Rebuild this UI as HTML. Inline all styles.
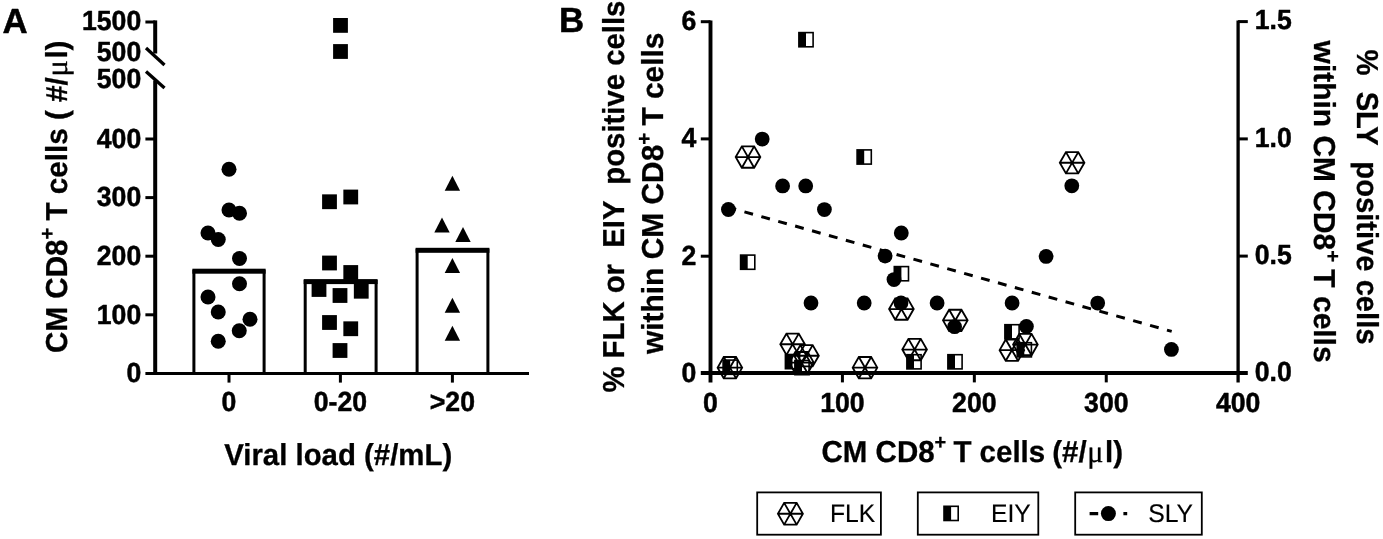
<!DOCTYPE html>
<html lang="en"><head><meta charset="utf-8"><title>Figure</title>
<style>
html,body{margin:0;padding:0;background:#fff;}
body{width:1383px;height:539px;overflow:hidden;font-family:"Liberation Sans",Arial,sans-serif;}
svg{display:block;}
</style></head><body>
<svg width="1383" height="539" viewBox="0 0 1383 539" shape-rendering="geometricPrecision" text-rendering="geometricPrecision">
<rect width="1383" height="539" fill="#fff"/>
<text transform="translate(2.6,32.6) scale(1,1)" font-size="34.8" text-anchor="start" font-family="Liberation Sans, Arial, sans-serif" font-weight="bold"  stroke="#000" stroke-width="0.5" stroke-linejoin="round">A</text>
<line x1="155.2" y1="20.4" x2="155.2" y2="53.5" stroke="#000" stroke-width="4.0" />
<line x1="155.2" y1="80.5" x2="155.2" y2="374.9" stroke="#000" stroke-width="4.0" />
<line x1="146.0" y1="48.0" x2="164.5" y2="65.0" stroke="#000" stroke-width="3.3" />
<line x1="146.0" y1="71.4" x2="164.5" y2="88.0" stroke="#000" stroke-width="3.3" />
<line x1="145.4" y1="22" x2="155.2" y2="22" stroke="#000" stroke-width="3.0" />
<line x1="145.4" y1="139.0" x2="155.2" y2="139.0" stroke="#000" stroke-width="3.0" />
<line x1="145.4" y1="197.6" x2="155.2" y2="197.6" stroke="#000" stroke-width="3.0" />
<line x1="145.4" y1="256.2" x2="155.2" y2="256.2" stroke="#000" stroke-width="3.0" />
<line x1="145.4" y1="314.79999999999995" x2="155.2" y2="314.79999999999995" stroke="#000" stroke-width="3.0" />
<line x1="145.4" y1="373.4" x2="529" y2="373.4" stroke="#000" stroke-width="3.0" />
<line x1="229" y1="373.4" x2="229" y2="382.6" stroke="#000" stroke-width="3.0" />
<line x1="340.4" y1="373.4" x2="340.4" y2="382.6" stroke="#000" stroke-width="3.0" />
<line x1="452.4" y1="373.4" x2="452.4" y2="382.6" stroke="#000" stroke-width="3.0" />
<text transform="translate(141.2,29.9) scale(0.965,1)" font-size="27.6" text-anchor="end" font-family="Liberation Sans, Arial, sans-serif" font-weight="bold"  stroke="#000" stroke-width="0.5" stroke-linejoin="round">1500</text>
<text transform="translate(141.2,61.1) scale(0.965,1)" font-size="27.6" text-anchor="end" font-family="Liberation Sans, Arial, sans-serif" font-weight="bold"  stroke="#000" stroke-width="0.5" stroke-linejoin="round">500</text>
<text transform="translate(141.2,88.1) scale(0.965,1)" font-size="27.6" text-anchor="end" font-family="Liberation Sans, Arial, sans-serif" font-weight="bold"  stroke="#000" stroke-width="0.5" stroke-linejoin="round">500</text>
<text transform="translate(141.2,147.7) scale(0.965,1)" font-size="27.6" text-anchor="end" font-family="Liberation Sans, Arial, sans-serif" font-weight="bold"  stroke="#000" stroke-width="0.5" stroke-linejoin="round">400</text>
<text transform="translate(141.2,206.3) scale(0.965,1)" font-size="27.6" text-anchor="end" font-family="Liberation Sans, Arial, sans-serif" font-weight="bold"  stroke="#000" stroke-width="0.5" stroke-linejoin="round">300</text>
<text transform="translate(141.2,264.9) scale(0.965,1)" font-size="27.6" text-anchor="end" font-family="Liberation Sans, Arial, sans-serif" font-weight="bold"  stroke="#000" stroke-width="0.5" stroke-linejoin="round">200</text>
<text transform="translate(141.2,323.5) scale(0.965,1)" font-size="27.6" text-anchor="end" font-family="Liberation Sans, Arial, sans-serif" font-weight="bold"  stroke="#000" stroke-width="0.5" stroke-linejoin="round">100</text>
<text transform="translate(141.2,382.1) scale(0.965,1)" font-size="27.6" text-anchor="end" font-family="Liberation Sans, Arial, sans-serif" font-weight="bold"  stroke="#000" stroke-width="0.5" stroke-linejoin="round">0</text>
<text transform="translate(229,411.0) scale(0.965,1)" font-size="27.6" text-anchor="middle" font-family="Liberation Sans, Arial, sans-serif" font-weight="bold"  stroke="#000" stroke-width="0.5" stroke-linejoin="round">0</text>
<text transform="translate(340.4,411.0) scale(0.965,1)" font-size="27.6" text-anchor="middle" font-family="Liberation Sans, Arial, sans-serif" font-weight="bold"  stroke="#000" stroke-width="0.5" stroke-linejoin="round">0-20</text>
<text transform="translate(452.4,411.0) scale(0.965,1)" font-size="27.6" text-anchor="middle" font-family="Liberation Sans, Arial, sans-serif" font-weight="bold"  stroke="#000" stroke-width="0.5" stroke-linejoin="round">&gt;20</text>
<text transform="translate(338.2,464.8) scale(1,1)" font-size="30.3" text-anchor="middle" font-family="Liberation Sans, Arial, sans-serif" font-weight="bold" textLength="228" lengthAdjust="spacingAndGlyphs" stroke="#000" stroke-width="0.3" stroke-linejoin="round">Viral load (#/mL)</text>
<text transform="translate(66.9,353.0) rotate(-90)" font-size="30.3" font-family="Liberation Sans, Arial, sans-serif" font-weight="bold" stroke="#000" stroke-width="0.3" stroke-linejoin="round" textLength="312.5" lengthAdjust="spacingAndGlyphs">CM CD8<tspan dy="-12.6" font-size="20.5">+</tspan><tspan dy="12.6" dx="-1"> T cells ( #/</tspan><tspan font-family="Liberation Serif, DejaVu Serif, serif" font-weight="normal" font-size="31" dx="0.8">μ</tspan><tspan dx="1.6">l)</tspan></text>
<path d="M193.9,373.4 V271.2 H264.1 V373.4" fill="none" stroke="#000" stroke-width="3"/>
<rect x="192.4" y="268.7" width="73.20000000000002" height="5" fill="#000"/>
<path d="M305.2,373.4 V281.6 H376.1 V373.4" fill="none" stroke="#000" stroke-width="3"/>
<rect x="303.7" y="279.1" width="73.90000000000003" height="5" fill="#000"/>
<path d="M417.1,373.4 V250.3 H487.9 V373.4" fill="none" stroke="#000" stroke-width="3"/>
<rect x="415.6" y="247.8" width="73.79999999999995" height="5" fill="#000"/>
<circle cx="229" cy="169.25" r="7.5" fill="#000"/>
<circle cx="229" cy="210" r="7.5" fill="#000"/>
<circle cx="239.5" cy="213.25" r="7.5" fill="#000"/>
<circle cx="208" cy="233" r="7.5" fill="#000"/>
<circle cx="218.25" cy="239.5" r="7.5" fill="#000"/>
<circle cx="239.5" cy="258.5" r="7.5" fill="#000"/>
<circle cx="239.5" cy="283.75" r="7.5" fill="#000"/>
<circle cx="208" cy="297" r="7.5" fill="#000"/>
<circle cx="218.25" cy="312" r="7.5" fill="#000"/>
<circle cx="250" cy="319.25" r="7.5" fill="#000"/>
<circle cx="239.25" cy="330.75" r="7.5" fill="#000"/>
<circle cx="218.25" cy="341.25" r="7.5" fill="#000"/>
<rect x="333.1" y="18.0" width="14.8" height="14.8" fill="#000"/>
<rect x="333.1" y="44.1" width="14.8" height="14.8" fill="#000"/>
<rect x="322.1" y="194.35" width="14.8" height="14.8" fill="#000"/>
<rect x="343.35" y="189.6" width="14.8" height="14.8" fill="#000"/>
<rect x="322.1" y="255.6" width="14.8" height="14.8" fill="#000"/>
<rect x="343.35" y="265.1" width="14.8" height="14.8" fill="#000"/>
<rect x="311.6" y="282.1" width="14.8" height="14.8" fill="#000"/>
<rect x="332.6" y="288.1" width="14.8" height="14.8" fill="#000"/>
<rect x="353.85" y="283.85" width="14.8" height="14.8" fill="#000"/>
<rect x="322.1" y="315.1" width="14.8" height="14.8" fill="#000"/>
<rect x="343.35" y="321.35" width="14.8" height="14.8" fill="#000"/>
<rect x="332.6" y="343.1" width="14.8" height="14.8" fill="#000"/>
<path d="M452.4,175.8 L460.09999999999997,190.8 H444.7 Z" fill="#000"/>
<path d="M442,217.4 L449.7,232.4 H434.3 Z" fill="#000"/>
<path d="M463,226.9 L470.7,241.9 H455.3 Z" fill="#000"/>
<path d="M452.4,257.9 L460.09999999999997,272.9 H444.7 Z" fill="#000"/>
<path d="M452.4,297.8 L460.09999999999997,312.8 H444.7 Z" fill="#000"/>
<path d="M452.4,325.8 L460.09999999999997,340.8 H444.7 Z" fill="#000"/>
<text transform="translate(558.9,32.4) scale(1,1)" font-size="34.8" text-anchor="start" font-family="Liberation Sans, Arial, sans-serif" font-weight="bold"  stroke="#000" stroke-width="0.5" stroke-linejoin="round">B</text>
<line x1="710.5" y1="20.4" x2="710.5" y2="382.4" stroke="#000" stroke-width="3.9" />
<line x1="1238.1" y1="20.4" x2="1238.1" y2="382.4" stroke="#000" stroke-width="3.3" />
<line x1="700.8" y1="372.9" x2="1247.8" y2="372.9" stroke="#000" stroke-width="4.0" />
<line x1="700.8" y1="21.7" x2="710.5" y2="21.7" stroke="#000" stroke-width="3.0" />
<line x1="700.8" y1="138.9" x2="710.5" y2="138.9" stroke="#000" stroke-width="3.0" />
<line x1="700.8" y1="256.2" x2="710.5" y2="256.2" stroke="#000" stroke-width="3.0" />
<line x1="1238.1" y1="21.6" x2="1247.8" y2="21.6" stroke="#000" stroke-width="3.0" />
<line x1="1238.1" y1="138.9" x2="1247.8" y2="138.9" stroke="#000" stroke-width="3.0" />
<line x1="1238.1" y1="256.1" x2="1247.8" y2="256.1" stroke="#000" stroke-width="3.0" />
<line x1="842.42" y1="372.9" x2="842.42" y2="382.4" stroke="#000" stroke-width="3.0" />
<line x1="974.3399999999999" y1="372.9" x2="974.3399999999999" y2="382.4" stroke="#000" stroke-width="3.0" />
<line x1="1106.26" y1="372.9" x2="1106.26" y2="382.4" stroke="#000" stroke-width="3.0" />
<text transform="translate(696.4,30.0) scale(0.965,1)" font-size="27.6" text-anchor="end" font-family="Liberation Sans, Arial, sans-serif" font-weight="bold"  stroke="#000" stroke-width="0.5" stroke-linejoin="round">6</text>
<text transform="translate(696.4,147.2) scale(0.965,1)" font-size="27.6" text-anchor="end" font-family="Liberation Sans, Arial, sans-serif" font-weight="bold"  stroke="#000" stroke-width="0.5" stroke-linejoin="round">4</text>
<text transform="translate(696.4,264.5) scale(0.965,1)" font-size="27.6" text-anchor="end" font-family="Liberation Sans, Arial, sans-serif" font-weight="bold"  stroke="#000" stroke-width="0.5" stroke-linejoin="round">2</text>
<text transform="translate(696.4,381.7) scale(0.965,1)" font-size="27.6" text-anchor="end" font-family="Liberation Sans, Arial, sans-serif" font-weight="bold"  stroke="#000" stroke-width="0.5" stroke-linejoin="round">0</text>
<text transform="translate(1254.8,29.3) scale(0.965,1)" font-size="27.6" text-anchor="start" font-family="Liberation Sans, Arial, sans-serif" font-weight="bold"  stroke="#000" stroke-width="0.5" stroke-linejoin="round">1.5</text>
<text transform="translate(1254.8,146.6) scale(0.965,1)" font-size="27.6" text-anchor="start" font-family="Liberation Sans, Arial, sans-serif" font-weight="bold"  stroke="#000" stroke-width="0.5" stroke-linejoin="round">1.0</text>
<text transform="translate(1254.8,263.8) scale(0.965,1)" font-size="27.6" text-anchor="start" font-family="Liberation Sans, Arial, sans-serif" font-weight="bold"  stroke="#000" stroke-width="0.5" stroke-linejoin="round">0.5</text>
<text transform="translate(1254.8,381.1) scale(0.965,1)" font-size="27.6" text-anchor="start" font-family="Liberation Sans, Arial, sans-serif" font-weight="bold"  stroke="#000" stroke-width="0.5" stroke-linejoin="round">0.0</text>
<text transform="translate(710.5,412.0) scale(0.965,1)" font-size="27.6" text-anchor="middle" font-family="Liberation Sans, Arial, sans-serif" font-weight="bold"  stroke="#000" stroke-width="0.5" stroke-linejoin="round">0</text>
<text transform="translate(842.4,412.0) scale(0.965,1)" font-size="27.6" text-anchor="middle" font-family="Liberation Sans, Arial, sans-serif" font-weight="bold"  stroke="#000" stroke-width="0.5" stroke-linejoin="round">100</text>
<text transform="translate(974.3,412.0) scale(0.965,1)" font-size="27.6" text-anchor="middle" font-family="Liberation Sans, Arial, sans-serif" font-weight="bold"  stroke="#000" stroke-width="0.5" stroke-linejoin="round">200</text>
<text transform="translate(1106.3,412.0) scale(0.965,1)" font-size="27.6" text-anchor="middle" font-family="Liberation Sans, Arial, sans-serif" font-weight="bold"  stroke="#000" stroke-width="0.5" stroke-linejoin="round">300</text>
<text transform="translate(1238.2,412.0) scale(0.965,1)" font-size="27.6" text-anchor="middle" font-family="Liberation Sans, Arial, sans-serif" font-weight="bold"  stroke="#000" stroke-width="0.5" stroke-linejoin="round">400</text>
<text x="821.6" y="462.0" font-size="30.3" font-family="Liberation Sans, Arial, sans-serif" font-weight="bold" stroke="#000" stroke-width="0.3" stroke-linejoin="round" textLength="301.5" lengthAdjust="spacingAndGlyphs">CM CD8<tspan dy="-12.6" font-size="20.5">+</tspan><tspan dy="12.6" dx="-1"> T cells</tspan><tspan dx="-1.2"> (#/</tspan><tspan font-family="Liberation Serif, DejaVu Serif, serif" font-weight="normal" font-size="31" dx="0.8">μ</tspan><tspan dx="1.6">l)</tspan></text>
<text transform="translate(623.5,392.6) rotate(-90)" font-size="30.3" font-family="Liberation Sans, Arial, sans-serif" font-weight="bold" stroke="#000" stroke-width="0.3" stroke-linejoin="round" textLength="392" lengthAdjust="spacingAndGlyphs" xml:space="preserve" style="white-space:pre">% FLK or  EIY  positive cells</text>
<text transform="translate(663.4,354) rotate(-90)" font-size="30.3" font-family="Liberation Sans, Arial, sans-serif" font-weight="bold" stroke="#000" stroke-width="0.3" stroke-linejoin="round" textLength="321.5" lengthAdjust="spacingAndGlyphs">within CM CD8<tspan dy="-12.6" font-size="20.5">+</tspan><tspan dy="12.6" dx="-1"> T cells</tspan></text>
<text transform="translate(1357,49.5) rotate(90)" font-size="30.3" font-family="Liberation Sans, Arial, sans-serif" font-weight="bold" stroke="#000" stroke-width="0.3" stroke-linejoin="round" textLength="295" lengthAdjust="spacingAndGlyphs" xml:space="preserve" style="white-space:pre">%  SLY  positive cells</text>
<text transform="translate(1313.5,40.6) rotate(90)" font-size="30.3" font-family="Liberation Sans, Arial, sans-serif" font-weight="bold" stroke="#000" stroke-width="0.3" stroke-linejoin="round" textLength="322" lengthAdjust="spacingAndGlyphs">within CM CD8<tspan dy="-12.6" font-size="20.5">+</tspan><tspan dy="12.6" dx="-1"> T cells</tspan></text>
<path d="M742.20,367.65 L736.05,378.30 L723.75,378.30 L717.60,367.65 L723.75,357.00 L736.05,357.00 Z M742.20,367.65 L717.60,367.65 M736.05,378.30 L723.75,357.00 M723.75,378.30 L736.05,357.00" fill="none" stroke="#000" stroke-width="1.85" stroke-linejoin="miter"/>
<path d="M760.30,157.05 L754.15,167.70 L741.85,167.70 L735.70,157.05 L741.85,146.40 L754.15,146.40 Z M760.30,157.05 L735.70,157.05 M754.15,167.70 L741.85,146.40 M741.85,167.70 L754.15,146.40" fill="none" stroke="#000" stroke-width="1.85" stroke-linejoin="miter"/>
<path d="M804.90,344.25 L798.75,354.90 L786.45,354.90 L780.30,344.25 L786.45,333.60 L798.75,333.60 Z M804.90,344.25 L780.30,344.25 M798.75,354.90 L786.45,333.60 M786.45,354.90 L798.75,333.60" fill="none" stroke="#000" stroke-width="1.85" stroke-linejoin="miter"/>
<path d="M818.80,355.75 L812.65,366.40 L800.35,366.40 L794.20,355.75 L800.35,345.10 L812.65,345.10 Z M818.80,355.75 L794.20,355.75 M812.65,366.40 L800.35,345.10 M800.35,366.40 L812.65,345.10" fill="none" stroke="#000" stroke-width="1.85" stroke-linejoin="miter"/>
<path d="M813.80,362.65 L807.65,373.30 L795.35,373.30 L789.20,362.65 L795.35,352.00 L807.65,352.00 Z M813.80,362.65 L789.20,362.65 M807.65,373.30 L795.35,352.00 M795.35,373.30 L807.65,352.00" fill="none" stroke="#000" stroke-width="1.85" stroke-linejoin="miter"/>
<path d="M877.30,367.65 L871.15,378.30 L858.85,378.30 L852.70,367.65 L858.85,357.00 L871.15,357.00 Z M877.30,367.65 L852.70,367.65 M871.15,378.30 L858.85,357.00 M858.85,378.30 L871.15,357.00" fill="none" stroke="#000" stroke-width="1.85" stroke-linejoin="miter"/>
<path d="M913.70,309.05 L907.55,319.70 L895.25,319.70 L889.10,309.05 L895.25,298.40 L907.55,298.40 Z M913.70,309.05 L889.10,309.05 M907.55,319.70 L895.25,298.40 M895.25,319.70 L907.55,298.40" fill="none" stroke="#000" stroke-width="1.85" stroke-linejoin="miter"/>
<path d="M926.90,349.55 L920.75,360.20 L908.45,360.20 L902.30,349.55 L908.45,338.90 L920.75,338.90 Z M926.90,349.55 L902.30,349.55 M920.75,360.20 L908.45,338.90 M908.45,360.20 L920.75,338.90" fill="none" stroke="#000" stroke-width="1.85" stroke-linejoin="miter"/>
<path d="M967.60,320.35 L961.45,331.00 L949.15,331.00 L943.00,320.35 L949.15,309.70 L961.45,309.70 Z M967.60,320.35 L943.00,320.35 M961.45,331.00 L949.15,309.70 M949.15,331.00 L961.45,309.70" fill="none" stroke="#000" stroke-width="1.85" stroke-linejoin="miter"/>
<path d="M1024.20,350.15 L1018.05,360.80 L1005.75,360.80 L999.60,350.15 L1005.75,339.50 L1018.05,339.50 Z M1024.20,350.15 L999.60,350.15 M1018.05,360.80 L1005.75,339.50 M1005.75,360.80 L1018.05,339.50" fill="none" stroke="#000" stroke-width="1.85" stroke-linejoin="miter"/>
<path d="M1037.70,344.55 L1031.55,355.20 L1019.25,355.20 L1013.10,344.55 L1019.25,333.90 L1031.55,333.90 Z M1037.70,344.55 L1013.10,344.55 M1031.55,355.20 L1019.25,333.90 M1019.25,355.20 L1031.55,333.90" fill="none" stroke="#000" stroke-width="1.85" stroke-linejoin="miter"/>
<path d="M1084.40,162.75 L1078.25,173.40 L1065.95,173.40 L1059.80,162.75 L1065.95,152.10 L1078.25,152.10 Z M1084.40,162.75 L1059.80,162.75 M1078.25,173.40 L1065.95,152.10 M1065.95,173.40 L1078.25,152.10" fill="none" stroke="#000" stroke-width="1.85" stroke-linejoin="miter"/>
<rect x="723.10" y="360.10" width="7.10" height="14.2" fill="#000"/>
<rect x="723.10" y="360.10" width="14.2" height="14.2" fill="none" stroke="#000" stroke-width="1.6"/>
<rect x="740.60" y="255.10" width="7.10" height="14.2" fill="#000"/>
<rect x="740.60" y="255.10" width="14.2" height="14.2" fill="none" stroke="#000" stroke-width="1.6"/>
<rect x="785.40" y="354.50" width="7.10" height="14.2" fill="#000"/>
<rect x="785.40" y="354.50" width="14.2" height="14.2" fill="none" stroke="#000" stroke-width="1.6"/>
<rect x="794.90" y="360.50" width="7.10" height="14.2" fill="#000"/>
<rect x="794.90" y="360.50" width="14.2" height="14.2" fill="none" stroke="#000" stroke-width="1.6"/>
<rect x="798.90" y="32.60" width="7.10" height="14.2" fill="#000"/>
<rect x="798.90" y="32.60" width="14.2" height="14.2" fill="none" stroke="#000" stroke-width="1.6"/>
<rect x="857.10" y="149.90" width="7.10" height="14.2" fill="#000"/>
<rect x="857.10" y="149.90" width="14.2" height="14.2" fill="none" stroke="#000" stroke-width="1.6"/>
<rect x="894.30" y="266.60" width="7.10" height="14.2" fill="#000"/>
<rect x="894.30" y="266.60" width="14.2" height="14.2" fill="none" stroke="#000" stroke-width="1.6"/>
<rect x="906.90" y="354.70" width="7.10" height="14.2" fill="#000"/>
<rect x="906.90" y="354.70" width="14.2" height="14.2" fill="none" stroke="#000" stroke-width="1.6"/>
<rect x="947.90" y="354.70" width="7.10" height="14.2" fill="#000"/>
<rect x="947.90" y="354.70" width="14.2" height="14.2" fill="none" stroke="#000" stroke-width="1.6"/>
<rect x="1004.90" y="324.70" width="7.10" height="14.2" fill="#000"/>
<rect x="1004.90" y="324.70" width="14.2" height="14.2" fill="none" stroke="#000" stroke-width="1.6"/>
<rect x="1017.20" y="342.70" width="7.10" height="14.2" fill="#000"/>
<rect x="1017.20" y="342.70" width="14.2" height="14.2" fill="none" stroke="#000" stroke-width="1.6"/>
<line x1="728.4" y1="207.4" x2="1171.7" y2="331.4" stroke="#000" stroke-width="3.0" stroke-dasharray="8.9 8.65" stroke-dashoffset="0.9"/>
<circle cx="728.4" cy="209.5" r="7.4" fill="#000"/>
<circle cx="762.2" cy="139.1" r="7.4" fill="#000"/>
<circle cx="782.6" cy="185.9" r="7.4" fill="#000"/>
<circle cx="805.7" cy="185.9" r="7.4" fill="#000"/>
<circle cx="824.4" cy="209.6" r="7.4" fill="#000"/>
<circle cx="811" cy="303" r="7.4" fill="#000"/>
<circle cx="864.2" cy="303" r="7.4" fill="#000"/>
<circle cx="885.1" cy="256.1" r="7.4" fill="#000"/>
<circle cx="901.3" cy="233" r="7.4" fill="#000"/>
<circle cx="894" cy="279.6" r="7.4" fill="#000"/>
<circle cx="901" cy="303" r="7.4" fill="#000"/>
<circle cx="937.1" cy="303" r="7.4" fill="#000"/>
<circle cx="954.6" cy="326.7" r="7.4" fill="#000"/>
<circle cx="1012.1" cy="303" r="7.4" fill="#000"/>
<circle cx="1026.4" cy="326.4" r="7.4" fill="#000"/>
<circle cx="1046.1" cy="256.4" r="7.4" fill="#000"/>
<circle cx="1071.8" cy="185.8" r="7.4" fill="#000"/>
<circle cx="1097.7" cy="303.1" r="7.4" fill="#000"/>
<circle cx="1171.4" cy="349.4" r="7.4" fill="#000"/>
<rect x="757.2" y="492.4" width="123.7" height="42.3" fill="none" stroke="#000" stroke-width="1.8"/>
<rect x="917.8" y="492.4" width="120.5" height="42.3" fill="none" stroke="#000" stroke-width="1.8"/>
<rect x="1075.2" y="492.4" width="126.6" height="42.3" fill="none" stroke="#000" stroke-width="1.8"/>
<path d="M802.90,513.75 L796.65,524.58 L784.15,524.58 L777.90,513.75 L784.15,502.92 L796.65,502.92 Z M802.90,513.75 L777.90,513.75 M796.65,524.58 L784.15,502.92 M784.15,524.58 L796.65,502.92" fill="none" stroke="#000" stroke-width="1.8" stroke-linejoin="miter"/>
<rect x="944.00" y="506.30" width="7.10" height="14.2" fill="#000"/>
<rect x="944.00" y="506.30" width="14.2" height="14.2" fill="none" stroke="#000" stroke-width="1.6"/>
<line x1="1089.6" y1="513.6" x2="1127.2" y2="513.6" stroke="#000" stroke-width="3.2" stroke-dasharray="8.6 25.2"/>
<circle cx="1108.4" cy="513.6" r="7.5" fill="#000"/>
<text transform="translate(830.0,522.2) scale(0.97,1)" font-size="25.5" text-anchor="start" font-family="Liberation Sans, Arial, sans-serif"  stroke="#000" stroke-width="0.15" stroke-linejoin="round">FLK</text>
<text transform="translate(991.0,522.2) scale(0.97,1)" font-size="25.5" text-anchor="start" font-family="Liberation Sans, Arial, sans-serif"  stroke="#000" stroke-width="0.15" stroke-linejoin="round">EIY</text>
<text transform="translate(1148.2,522.2) scale(0.97,1)" font-size="25.5" text-anchor="start" font-family="Liberation Sans, Arial, sans-serif"  stroke="#000" stroke-width="0.15" stroke-linejoin="round">SLY</text>
</svg>
</body></html>
